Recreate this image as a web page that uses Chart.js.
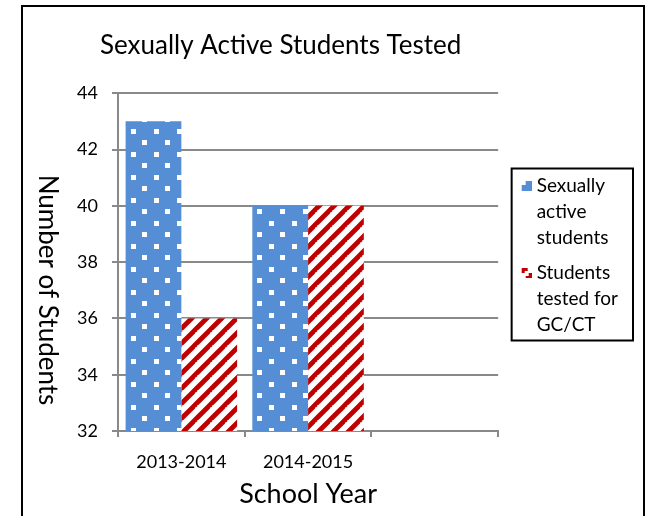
<!DOCTYPE html>
<html>
<head>
<meta charset="utf-8">
<script src="https://cdn.jsdelivr.net/npm/chart.js@4.4.0/dist/chart.umd.min.js"></script>
<style>
  body { margin: 0; background: #fff; }
  #wrap { position: relative; width: 649px; height: 516px; overflow: hidden; }
  #frame { position: absolute; left: 21px; top: 5px; width: 620px; height: 540px; border: 2px solid #000; pointer-events: none; }
</style>
</head>
<body>
<div id="wrap">
  <canvas id="myChart" width="649" height="516"></canvas>
  <div id="frame"></div>
</div>
<script>
const chartTitle = "Sexually Active Students Tested";
const xTitle = "School Year";
const yTitle = "Number of Students";
const categories = ["2013-2014", "2014-2015", ""];
const activeStudents = [43, 40, null];
const testedStudents = [36, 40, null];
const seriesNames = ["Sexually active students", "Students tested for GC/CT"];
const legendLines = [
  ["Sexually", "active", "students"],
  ["Students", "tested for", "GC/CT"],
];
const yMin = 32;
const yMax = 44;
const yStep = 2;

const blue = "#558ed5";
const red = "#c00000";
const gridGray = "#898989";

// white dots on blue
function dotPattern() {
  const c = document.createElement("canvas");
  c.width = 23;
  c.height = 23;
  const g = c.getContext("2d");
  g.fillStyle = blue;
  g.fillRect(0, 0, 23, 23);
  g.fillStyle = "#fff";
  g.fillRect(16, 14, 5, 5);
  g.fillRect(4, 2, 5, 5);
  return g.createPattern(c, "repeat");
}

// red upward diagonal stripes on white
function stripePattern() {
  const p = 15;
  const c = document.createElement("canvas");
  c.width = p;
  c.height = p;
  const g = c.getContext("2d");
  g.fillStyle = "#fff";
  g.fillRect(0, 0, p, p);
  g.strokeStyle = red;
  g.lineWidth = 4.8;
  g.beginPath();
  for (const k of [0, p, 2 * p]) {
    g.moveTo(k + 1, -1);
    g.lineTo(-1, k + 1);
  }
  g.stroke();
  return g.createPattern(c, "repeat");
}

// legend markers, the square sits at the right end of the image
function legendMarker(kind) {
  const c = document.createElement("canvas");
  c.width = 29;
  c.height = 10;
  const g = c.getContext("2d");
  if (kind === 0) {
    g.fillStyle = blue;
    g.fillRect(19, 0, 10, 10);
    g.fillStyle = "#fff";
    g.fillRect(19, 0, 4, 4);
  } else {
    g.fillStyle = red;
    g.fillRect(19, 0, 6, 3);
    g.fillRect(19, 3, 3, 2);
    g.fillRect(26, 5, 3, 5);
    g.fillRect(23, 8, 3, 2);
  }
  return c;
}
const markers = [legendMarker(0), legendMarker(1)];

const legendFrame = {
  id: "legendFrame",
  afterDraw(chart) {
    const lg = chart.legend;
    const hb = lg.legendHitBoxes;
    if (!hb || !hb.length) return;
    const last = hb[hb.length - 1];
    const left = hb[0].left + 4.5;
    const top = hb[0].top - 8;
    const c = chart.ctx;
    c.save();
    c.strokeStyle = "#000";
    c.lineWidth = 2;
    c.strokeRect(left, top, lg.right + 5 - left, last.top + last.height - 1 - top);
    c.restore();
  },
};

// axis title reads top to bottom
const yAxisTitle = {
  id: "yAxisTitle",
  afterDraw(chart) {
    const c = chart.ctx;
    c.save();
    c.translate(47, 290);
    c.rotate(Math.PI / 2);
    c.fillStyle = "#000";
    c.font = "26px Lato";
    c.textAlign = "center";
    c.textBaseline = "middle";
    c.fillText(yTitle, 0, 0);
    c.restore();
  },
};

const ctx = document.getElementById("myChart");

const newChart = new Chart(ctx, {
  type: "bar",
  data: {
    labels: categories,
    datasets: [
      {
        label: seriesNames[0],
        data: activeStudents,
        backgroundColor: dotPattern(),
        borderWidth: 0,
      },
      {
        label: seriesNames[1],
        data: testedStudents,
        backgroundColor: stripePattern(),
        borderWidth: 0,
      },
    ],
  },
  options: {
    responsive: false,
    animation: false,
    layout: { padding: { top: 8, bottom: 6, left: 100, right: 21 } },
    datasets: { bar: { categoryPercentage: 0.88, barPercentage: 1 } },
    scales: {
      x: {
        grid: {
          drawOnChartArea: false,
          tickLength: 6,
          color: gridGray,
          lineWidth: 2,
          offset: true,
        },
        border: { color: gridGray, width: 2 },
        ticks: { color: "#000", font: { family: "Lato", size: 18 }, padding: 14 },
        title: {
          display: true,
          text: xTitle,
          color: "#000",
          font: { family: "Lato", size: 27 },
          padding: { top: -9, bottom: 0 },
        },
      },
      y: {
        min: yMin,
        max: yMax,
        ticks: {
          stepSize: yStep,
          color: "#000",
          font: { family: "Lato", size: 18 },
          // labels sit left of the tick marks, outside the narrow axis box
          mirror: true,
          crossAlign: "near",
          padding: -41,
        },
        grid: { color: gridGray, lineWidth: 2, tickLength: 6 },
        border: { color: gridGray, width: 2 },
        afterFit(axis) {
          axis.width = 18;
        },
      },
    },
    plugins: {
      title: {
        display: true,
        text: chartTitle,
        align: "start",
        color: "#000",
        font: { family: "Lato", size: 26, weight: "normal" },
        padding: { top: 22, bottom: 32 },
      },
      legend: {
        position: "right",
        labels: {
          usePointStyle: true,
          pointStyleWidth: 20,
          padding: 9,
          color: "#000",
          font: { family: "Lato", size: 19, lineHeight: 26 / 19 },
          generateLabels(chart) {
            const items = Chart.defaults.plugins.legend.labels.generateLabels(chart);
            items.forEach((item, i) => {
              item.text = legendLines[i];
              item.pointStyle = markers[i];
            });
            return items;
          },
        },
      },
      tooltip: { enabled: false },
    },
  },
  plugins: [legendFrame, yAxisTitle],
});
</script>
</body>
</html>
